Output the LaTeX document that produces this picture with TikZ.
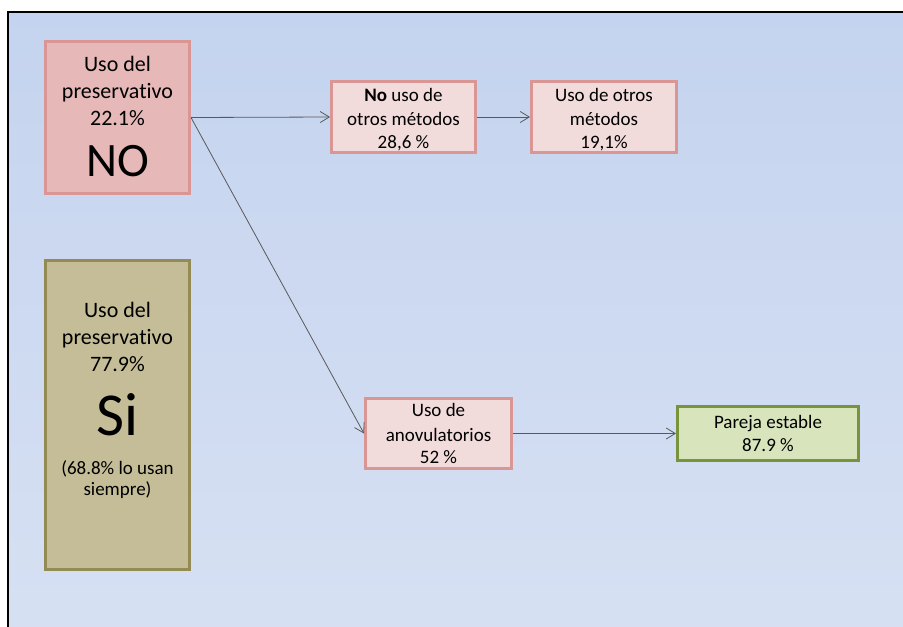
\documentclass[tikz,border=0pt]{standalone}
\usepackage{fontspec}
\setmainfont[RawFeature=-liga]{Carlito}
\usetikzlibrary{arrows.meta}
\definecolor{bgtop}{HTML}{94B1E1}
\definecolor{bgmid}{HTML}{C1D1EE}
\definecolor{bgbot}{HTML}{E0E7F5}
\definecolor{pinkfill}{HTML}{E6B9B8}
\definecolor{pinkdraw}{HTML}{D99694}
\definecolor{lpinkfill}{HTML}{F2DCDB}
\definecolor{olivefill}{HTML}{C4BD97}
\definecolor{olivedraw}{HTML}{948A54}
\definecolor{greenfill}{HTML}{D7E4BC}
\definecolor{greendraw}{HTML}{77933C}
\definecolor{linkcol}{HTML}{595959}
\pgfdeclareverticalshading{bgshade}{100bp}{color(0bp)=(bgbot); color(75bp)=(bgmid!90!bgbot); color(89bp)=(bgmid); color(100bp)=(bgtop)}
\tikzset{
  box/.style={draw, line width=3pt, inner sep=0pt, align=center, text=black},
  smallbox/.style={box, fill=lpinkfill, draw=pinkdraw, minimum width=144pt, minimum height=71pt, font=\fontsize{19}{23.5}\selectfont},
  bigtxt/.style={anchor=base, inner sep=0pt, font=\fontsize{22}{26}\selectfont},
  midtxt/.style={anchor=base, inner sep=0pt, font=\fontsize{19}{23}\selectfont},
  link/.style={draw=linkcol, line width=0.8pt, -{Straight Barb[length=9pt,width=11pt,line width=0.8pt]}}
}
\begin{document}
\begin{tikzpicture}[x=1pt,y=-1pt]
\useasboundingbox (0,0) rectangle (903,627);
\fill[white] (0,0) rectangle (903,627);
\shade[shading=bgshade] (8,12) rectangle (903,627);
\draw[black, line width=1.2pt] (8,627) -- (8,12) -- (903,12);

% NO box
\node[box, fill=pinkfill, draw=pinkdraw, minimum width=144pt, minimum height=152pt] (no) at (117.5,117.5) {};
\node[bigtxt] (no1) at (117.5,71.7) {Uso del};
\node[bigtxt] (no2) at (117.5,98.3) {preservativo};
\node[bigtxt] (no3) at (117.5,125) {22.1\%};
\node[bigtxt, font=\fontsize{48}{50}\selectfont] (no4) at (117.5,176) {NO};

% Si box
\node[box, fill=olivefill, draw=olivedraw, minimum width=144pt, minimum height=309pt] (si) at (117.5,415) {};
\node[bigtxt] (si1) at (117.5,317.7) {Uso del};
\node[bigtxt] (si2) at (117.5,344.5) {preservativo};
\node[bigtxt] (si3) at (117.5,371) {77.9\%};
\node[bigtxt, font=\fontsize{61}{62}\selectfont] (si4) at (117.5,435) {Si};
\node[midtxt] (si5) at (117.5,474.5) {(68.8\% lo usan};
\node[midtxt] (si6) at (117.5,495.5) {siempre)};

\node[smallbox] (nouso) at (403.5,117) {};
\node[midtxt] (nu1) at (403.5,101.7) {\textbf{No} uso de};
\node[midtxt] (nu2) at (403.5,125) {otros métodos};
\node[midtxt] (nu3) at (403.5,148.3) {28,6 \%};

\node[smallbox, minimum width=145pt] (otros) at (604,117) {};
\node[midtxt] (ot1) at (604,101.7) {Uso de otros};
\node[midtxt] (ot2) at (604,125) {métodos};
\node[midtxt] (ot3) at (604,148.3) {19,1\%};

\node[smallbox, minimum width=146pt, minimum height=70pt] (anov) at (438.5,433.5) {};
\node[midtxt] (an1) at (438.5,416.7) {Uso de};
\node[midtxt] (an2) at (438.5,441) {anovulatorios};
\node[midtxt] (an3) at (438.5,463.3) {52 \%};

\node[box, fill=greenfill, draw=greendraw, minimum width=181pt, minimum height=54pt] (pareja) at (768,433.5) {};
\node[midtxt] (pa1) at (768,428.3) {Pareja estable};
\node[midtxt] (pa2) at (768,451.7) {87.9 \%};

\draw[link] (no.east) -- (nouso.west);
\draw[link] (no.east) -- (anov.west);
\draw[link] (nouso.east) -- (otros.west);
\draw[link] (anov.east) -- (pareja.west);
\end{tikzpicture}
\end{document}
